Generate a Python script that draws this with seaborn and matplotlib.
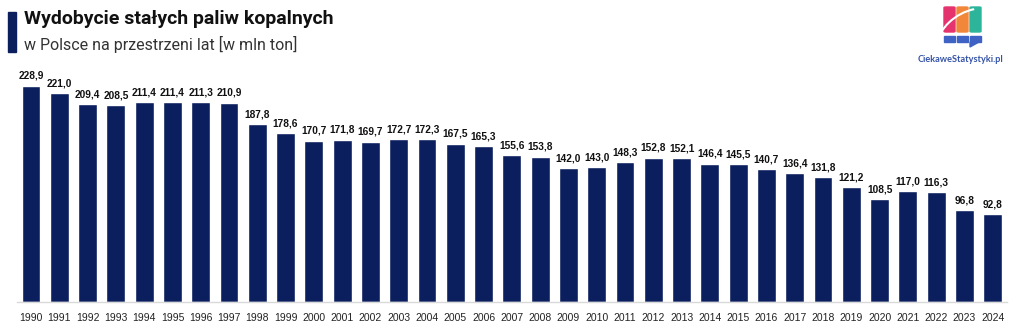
import matplotlib
matplotlib.use("Agg")
import matplotlib.pyplot as plt
import matplotlib.patches as mpatches
import seaborn as sns
import pandas as pd

years = [str(y) for y in range(1990, 2025)]
values = [228.9, 221.0, 209.4, 208.5, 211.4, 211.4, 211.3, 210.9, 187.8, 178.6,
          170.7, 171.8, 169.7, 172.7, 172.3, 167.5, 165.3, 155.6, 153.8, 142.0,
          143.0, 148.3, 152.8, 152.1, 146.4, 145.5, 140.7, 136.4, 131.8, 121.2,
          108.5, 117.0, 116.3, 96.8, 92.8]
title = "Wydobycie stałych paliw kopalnych"
subtitle = "w Polsce na przestrzeni lat [w mln ton]"
source = "CiekaweStatystyki.pl"

sns.set_theme(style="white")
plt.rcParams['font.family'] = ['Liberation Sans', 'DejaVu Sans']

df = pd.DataFrame({"rok": years, "wartosc": values})
navy = "#0b1f5e"

fig = plt.figure(figsize=(10.24, 3.35), dpi=100)
W, H = 1024, 335
ax = fig.add_axes([16.85 / W, 1 - 302 / H, 990 / W, 242 / H])
sns.barplot(data=df, x="rok", y="wartosc", color=navy, width=0.67,
            saturation=1, ax=ax)
ax.set_xlim(-0.5, len(years) - 0.5)
ax.set_ylim(0, 256)
ax.set_xlabel("")
ax.set_ylabel("")
ax.set_yticks([])
for s in ["top", "right", "left"]:
    ax.spines[s].set_visible(False)
ax.spines["bottom"].set_color("#d9d9d9")
ax.spines["bottom"].set_linewidth(1.0)
ax.tick_params(axis="x", length=0, pad=8, labelsize=7.5, labelcolor="#222222")

for i, v in enumerate(values):
    ax.text(i, v + 5, f"{v:.1f}".replace(".", ","), ha="center", va="bottom",
            fontsize=7.3, fontweight="bold", color="#111111")

# title block
fig.patches.append(mpatches.Rectangle((8 / W, 1 - 52 / H), 8 / W, 40 / H,
                                      transform=fig.transFigure, color=navy))
fig.text(24 / W, 1 - 19 / H, title, fontsize=14, fontweight="bold",
         color="#111111", va="center", ha="left", family=["Roboto", "DejaVu Sans"])
fig.text(24 / W, 1 - 44 / H, subtitle, fontsize=11.5, color="#333333",
         va="center", ha="left", family=["Roboto", "DejaVu Sans"])

# logo
cols = ["#e5336d", "#f2873a", "#2db59b"]
for k, c in enumerate(cols):
    x0 = 944 + k * 13
    fig.patches.append(mpatches.FancyBboxPatch((x0 / W, 1 - 32 / H),
                       11 / W, 25 / H, boxstyle="round,pad=0,rounding_size=0.002",
                       transform=fig.transFigure, color=c))
    fig.patches.append(mpatches.Rectangle((x0 / W, 1 - 42 / H), 11 / W, 6 / H,
                                          transform=fig.transFigure, color="#3f63c4"))
fig.patches.append(mpatches.Polygon([[970 / W, 1 - 42 / H], [979 / W, 1 - 42 / H],
                                     [970 / W, 1 - 47 / H]], closed=True,
                                    transform=fig.transFigure, color="#3f63c4"))
fig.patches.append(mpatches.Arc((985 / W, 1 - 60 / H), 104 / W, 104 / H,
                                theta1=94, theta2=141, transform=fig.transFigure,
                                color="white", lw=1.5))
fig.text(960 / W, 1 - 59 / H, source, fontsize=6.6, fontweight="bold",
         color="#3553a8", ha="center", va="center", family=["Lato", "DejaVu Sans"])

fig.savefig("out.png", dpi=100, facecolor="white")
